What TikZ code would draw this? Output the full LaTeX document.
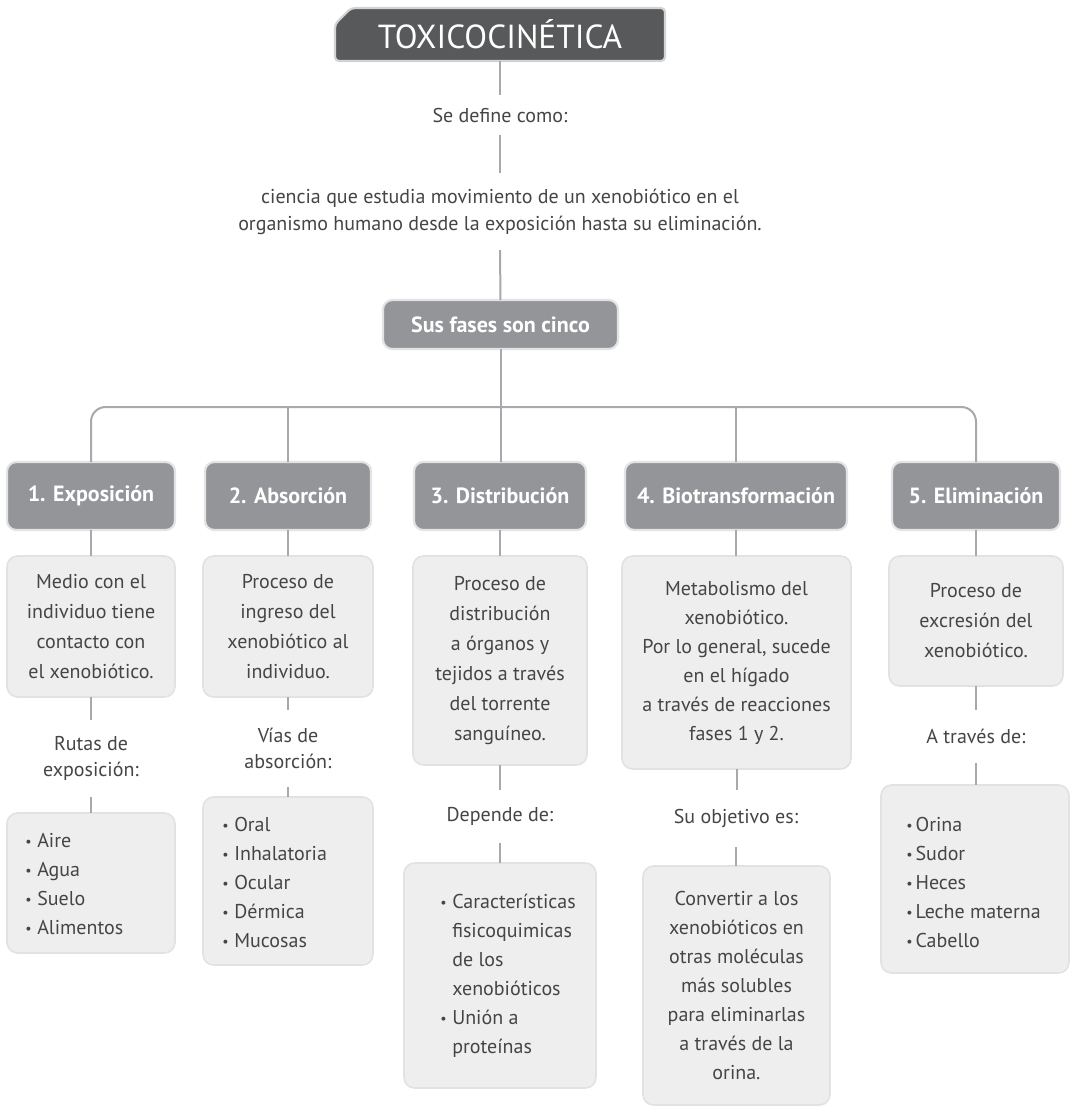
\documentclass[tikz,border=0pt]{standalone}
\usepackage{fontspec}
\usepackage{graphicx}
\setmainfont{PT Sans}

\definecolor{titlefill}{HTML}{58595B}
\definecolor{titleedge}{HTML}{D2D3D4}
\definecolor{phasefill}{HTML}{939598}
\definecolor{phaseedge}{HTML}{E2E3E4}
\definecolor{boxfill}{HTML}{EEEEEE}
\definecolor{boxedge}{HTML}{E2E2E2}
\definecolor{linkgray}{HTML}{A7A9AC}
\definecolor{ink}{HTML}{454547}

% small bullet used in the lists
\newcommand{\bul}{\makebox[9pt][l]{\raisebox{0.1ex}{\scalebox{0.7}{•}}}}
\newcommand{\bulnarrow}{\makebox[7pt][l]{\raisebox{0.1ex}{\scalebox{0.7}{•}}}}

\tikzset{
  % a node covering the rectangle (x1,y1)-(x2,y2), given in picture units
  span/.style n args={4}{
    at={({(#1+#3)/2},{(#2+#4)/2})},
    minimum width={(#3-#1)*0.75pt},
    minimum height={(#4-#2)*0.75pt}},
  area/.style={inner sep=0pt, outer sep=0pt},
  phasebox/.style={area, rounded corners=7pt, fill=phasefill, draw=phaseedge,
    line width=1.6pt, text=white,
    font=\bfseries\fontsize{16.5}{18}\selectfont},
  infobox/.style={area, rounded corners=8pt, fill=boxfill, draw=boxedge,
    line width=1.2pt, text=ink, align=center,
    font=\fontsize{15}{22.5}\selectfont},
  listbox/.style={area, rounded corners=8pt, fill=boxfill, draw=boxedge,
    line width=1.2pt},
  listtext/.style={inner sep=0pt, text=ink, align=left, anchor=west,
    font=\fontsize{15}{21.75}\selectfont},
  caption/.style={area, text=ink, align=center,
    font=\fontsize{15}{19.5}\selectfont},
  link/.style={draw=linkgray, line width=1.5pt},
}

\begin{document}
\begin{tikzpicture}[x=0.75pt, y=-0.75pt]
\useasboundingbox (0,0) rectangle (1073,1108);
\fill[white] (0,0) rectangle (1073,1108);

% ---- title with a cut top-left corner
\path[fill=titlefill, draw=titleedge, line width=1.6pt, rounded corners=3pt]
  (335,24) -- (351,8) -- (665,8) -- (665,61) -- (335,61) -- cycle;
\node[area, span={335}{8}{665}{61}, text=white,
      font=\fontsize{25}{28}\selectfont] (title) {TOXICOCINÉTICA};

% ---- definition
\node[caption, span={420}{95}{580}{135}] (defl) {Se define como:};
\node[caption, span={230}{173}{770}{250}, font=\fontsize{15}{20.25}\selectfont] (defin)
  {ciencia que estudia movimiento de un xenobiótico en el\\
   organismo humano desde la exposición hasta su eliminación.};

\node[phasebox, span={383}{300}{618}{349}] (fases) {Sus fases son cinco};

\coordinate (bus) at (500,407);

% ---- the five phases
\node[phasebox, span={7}{462}{175}{530}]    (h1) {1. Exposición};
\node[phasebox, span={205}{462}{371}{530}]  (h2) {2. Absorción};
\node[phasebox, span={414}{462}{586}{530}]  (h3) {3. Distribución};
\node[phasebox, span={625}{462}{847}{530}]  (h4) {4. Biotransformación};
\node[phasebox, span={892}{462}{1060}{530}] (h5) {5. Eliminación};

% ---- descriptions
\node[infobox, span={7}{556}{175}{697}] (d1)
  {Medio con el\\individuo tiene\\contacto con\\el xenobiótico.};
\node[infobox, span={203}{556}{373}{697}] (d2)
  {Proceso de\\ingreso del\\xenobiótico al\\individuo.};
\node[infobox, span={413}{556}{587}{765}] (d3)
  {Proceso de\\distribución\\a órganos y\\tejidos a través\\del torrente\\sanguíneo.};
\node[infobox, span={622}{556}{851}{769}, font=\fontsize{15}{21.75}\selectfont] (d4)
  {Metabolismo del\\xenobiótico.\\Por lo general, sucede\\en el hígado\\a través de reacciones\\fases 1 y 2.};
\node[infobox, span={889}{556}{1063}{686}] (d5)
  {Proceso de\\excresión del\\xenobiótico.};

% ---- intermediate captions
\node[caption, span={30}{720}{152}{797}]   (c1) {Rutas de\\exposición:};
\node[caption, span={225}{710}{351}{787}]  (c2) {Vías de\\absorción:};
\node[caption, span={420}{790}{580}{843}]  (c3) {Depende de:};
\node[caption, span={646}{790}{826}{847}]  (c4) {Su objetivo es:};
\node[caption, span={900}{710}{1052}{763}] (c5) {A través de:};

% ---- lists
\node[listbox, span={7}{813}{175}{953}]    (l1) {};
\node[listtext] (t1) at (25,884)
  {\bul Aire\\\bul Agua\\\bul Suelo\\\bul Alimentos};

\node[listbox, span={203}{797}{373}{965}]  (l2) {};
\node[listtext] (t2) at (222,882)
  {\bul Oral\\\bul Inhalatoria\\\bul Ocular\\\bul Dérmica\\\bul Mucosas};

\node[listbox, span={404}{863}{596}{1088}] (l3) {};
\node[listtext] (t3) at (440,976)
  {\bul Características\\\hspace*{9pt}fisicoquimicas\\\hspace*{9pt}de los\\\hspace*{9pt}xenobióticos\\\bul Unión a\\\hspace*{9pt}proteínas};

\node[infobox, span={643}{866}{830}{1105}, font=\fontsize{15}{21.75}\selectfont] (l4)
  {Convertir a los\\xenobióticos en\\otras moléculas\\más solubles\\para eliminarlas\\a través de la\\orina.};

\node[listbox, span={881}{785}{1069}{973}] (l5) {};
\node[listtext] (t5) at (906,882)
  {\bulnarrow Orina\\\bulnarrow Sudor\\\bulnarrow Heces\\\bulnarrow Leche materna\\\bulnarrow Cabello};

% ---- connectors
\draw[link] (title.south) -- (defl.north);
\draw[link] (defl.south) -- (defin.north);
\draw[link] (defin.south) -- (fases.north);
\draw[link] (fases.south) -- (fases.south |- h3.north);
\draw[link, rounded corners=11pt] (h1.north) -- (h1.north |- bus) -- (h5.north |- bus) -- (h5.north);
\draw[link] (h2.north |- bus) -- (h2.north);
\draw[link] (h4.north |- bus) -- (h4.north);

\foreach \i in {1,...,5} {
  \draw[link] (h\i.south) -- (h\i.south |- d\i.north);
  \draw[link] (d\i.south) -- (d\i.south |- c\i.north);
  \draw[link] (c\i.south) -- (c\i.south |- l\i.north);
}
\end{tikzpicture}
\end{document}
